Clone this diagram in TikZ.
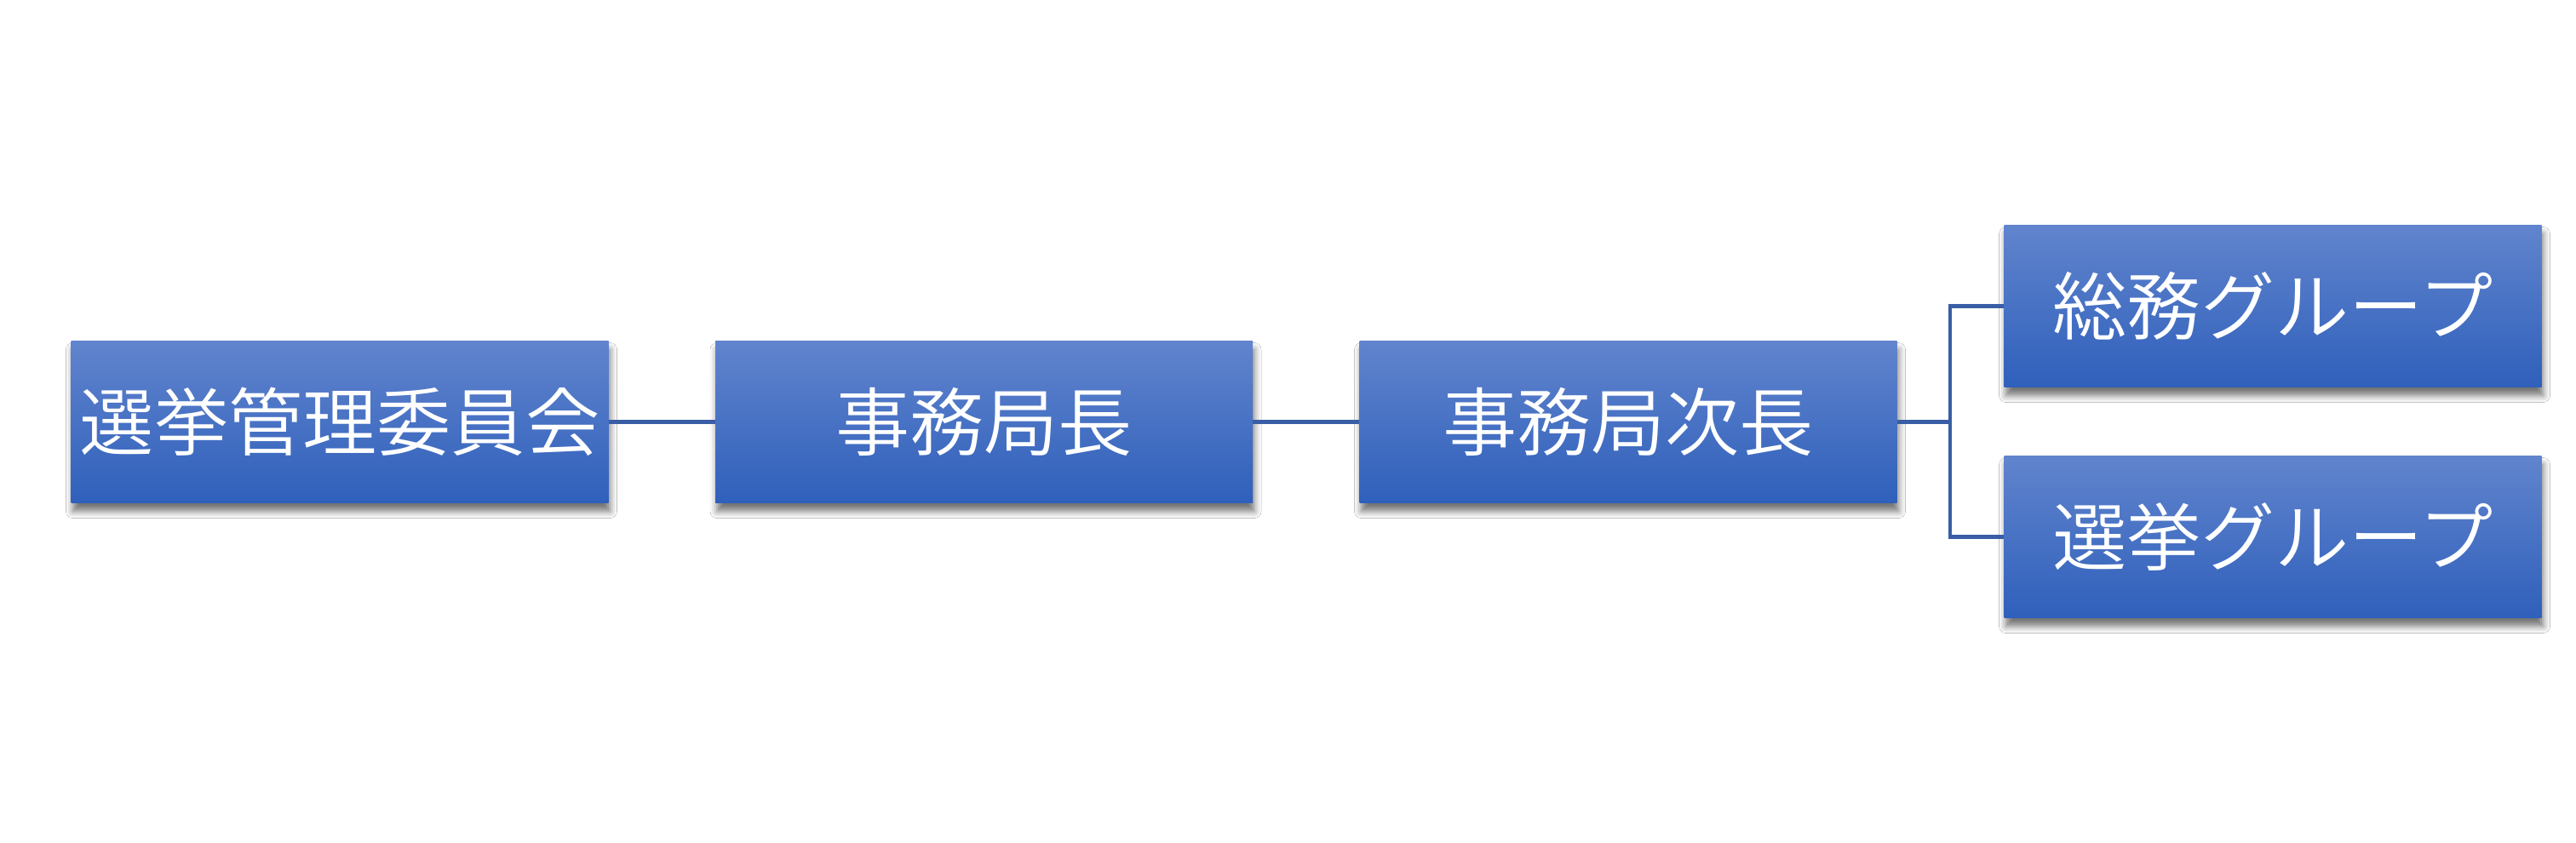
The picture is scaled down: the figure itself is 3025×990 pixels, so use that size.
\documentclass[tikz,border=0pt]{standalone}
\usepackage{fontspec}
\newfontfamily\jp{Noto Sans CJK JP DemiLight}
\usetikzlibrary{shadows.blur}
\definecolor{boxtop}{RGB}{97,132,205}
\definecolor{boxbot}{RGB}{47,96,187}
\definecolor{linkc}{RGB}{58,94,166}
\begin{document}
\begin{tikzpicture}[x=0.5pt,y=-0.5pt,
  orgbox/.style={minimum width=315.5pt, minimum height=95pt, top color=boxtop, bottom color=boxbot,
    text=white, font=\jp\fontsize{43.6}{43.6}\selectfont, inner sep=0pt,
    blur shadow={shadow xshift=1pt, shadow yshift=-5pt, shadow blur radius=4pt, shadow opacity=55}},
  link/.style={draw=linkc, line width=2.3pt}]
\useasboundingbox (0,0) rectangle (3025,990);
\fill[white] (0,0) rectangle (3025,990);
\node[orgbox] (a) at (399,495.5) {選挙管理委員会};
\node[orgbox] (b) at (1155.5,495.5) {事務局長};
\node[orgbox] (c) at (1912,495.5) {事務局次長};
\node[orgbox] (d) at (2669,359.5) {総務グループ};
\node[orgbox] (e) at (2669,630.5) {選挙グループ};
\coordinate (br) at (2290,495.5);
\draw[link] (a.east) -- (b.west);
\draw[link] (b.east) -- (c.west);
\draw[link] (c.east) -- (br) |- (d.west);
\draw[link] (br) |- (e.west);
\end{tikzpicture}
\end{document}
